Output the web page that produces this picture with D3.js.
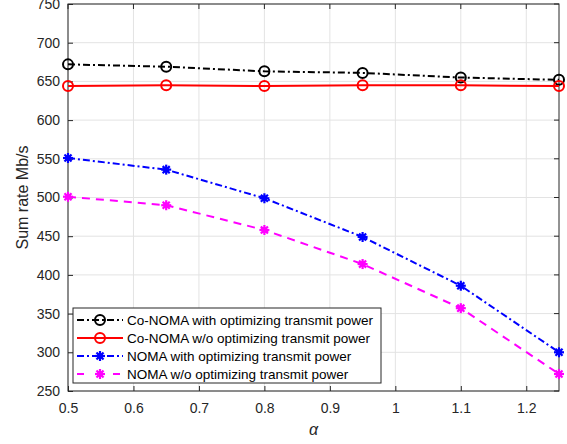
<!DOCTYPE html>
<html><head><meta charset="utf-8">
<script src="https://cdn.jsdelivr.net/npm/d3@7"></script>
<style>body{margin:0;background:#fff;} text{font-family:"Liberation Sans",Arial,sans-serif;}</style>
</head><body>
<svg id="c" width="567" height="444"></svg>
<script>
const alphas = [0.5, 0.65, 0.8, 0.95, 1.1, 1.25];
const coNomaOpt = [672, 669, 663, 661, 655, 652];
const coNomaNoOpt = [644, 645, 644, 645, 645, 644];
const nomaOpt = [551, 536, 499, 449, 386, 300];
const nomaNoOpt = [501, 490, 458, 414, 357, 272];
const xTicks = [0.5, 0.6, 0.7, 0.8, 0.9, 1, 1.1, 1.2];
const yTicks = [250, 300, 350, 400, 450, 500, 550, 600, 650, 700, 750];
const seriesNames = ["Co-NOMA with optimizing transmit power","Co-NOMA w/o optimizing transmit power","NOMA with optimizing transmit power","NOMA w/o optimizing transmit power"];

const svg = d3.select("#c");
const L=68,R=559,T=4,B=391;
const x = d3.scaleLinear().domain([0.5,1.25]).range([L,R]);
const y = d3.scaleLinear().domain([250,750]).range([B,T]);

// grid
svg.append("g").selectAll("line").data(xTicks).join("line")
  .attr("x1",d=>x(d)).attr("x2",d=>x(d)).attr("y1",T).attr("y2",B)
  .attr("stroke","#e3e3e3").attr("stroke-width",1);
svg.append("g").selectAll("line").data(yTicks).join("line")
  .attr("x1",L).attr("x2",R).attr("y1",d=>y(d)).attr("y2",d=>y(d))
  .attr("stroke","#e3e3e3").attr("stroke-width",1);

// axes
const xa = svg.append("g").attr("transform",`translate(0,${B})`)
  .call(d3.axisBottom(x).tickValues(xTicks).tickSize(-5).tickPadding(12).tickFormat(d=>d3.format("")(d)));
const ya = svg.append("g").attr("transform",`translate(${L},0)`)
  .call(d3.axisLeft(y).tickValues(yTicks).tickSize(-5).tickPadding(8));
[xa,ya].forEach(a=>{
  a.select(".domain").remove();
  a.selectAll("line").attr("stroke","#262626");
  a.selectAll("text").attr("font-size",14).attr("fill","#262626").attr("font-family","Liberation Sans,Arial,sans-serif");
});
// top/right ticks
svg.append("g").selectAll("line").data(xTicks).join("line")
  .attr("x1",d=>x(d)).attr("x2",d=>x(d)).attr("y1",T).attr("y2",T+5).attr("stroke","#262626");
svg.append("g").selectAll("line").data(yTicks).join("line")
  .attr("x1",R-5).attr("x2",R).attr("y1",d=>y(d)).attr("y2",d=>y(d)).attr("stroke","#262626");
// box
svg.append("rect").attr("x",L).attr("y",T).attr("width",R-L).attr("height",B-T)
  .attr("fill","none").attr("stroke","#262626").attr("stroke-width",1);

// axis labels
svg.append("text").attr("x",(L+R)/2).attr("y",435).attr("text-anchor","middle")
  .attr("font-family","Liberation Serif,serif").attr("font-style","italic").attr("font-size",16).attr("fill","#262626").text("α");
svg.append("text").attr("transform",`translate(28,${(T+B)/2}) rotate(-90)`).attr("text-anchor","middle")
  .attr("font-size",16).attr("fill","#262626").text("Sum rate Mb/s");

const series = [
  {vals:coNomaOpt,color:"#000000",dash:"7,3,2,3",marker:"circle"},
  {vals:coNomaNoOpt,color:"#ff0000",dash:null,marker:"circle"},
  {vals:nomaOpt,color:"#0000ff",dash:"7,3,2,3",marker:"star"},
  {vals:nomaNoOpt,color:"#ff00ff",dash:"8,6",marker:"star"}
];
const line = d3.line().x((d,i)=>x(alphas[i])).y(d=>y(d));

function drawMarker(g,cx,cy,s){
  if(s.marker==="circle"){
    g.append("circle").attr("cx",cx).attr("cy",cy).attr("r",5).attr("fill","none").attr("stroke",s.color).attr("stroke-width",2);
  } else {
    for(let k=0;k<4;k++){
      const a=k*Math.PI/4;
      g.append("line").attr("x1",cx-5*Math.cos(a)).attr("y1",cy-5*Math.sin(a))
        .attr("x2",cx+5*Math.cos(a)).attr("y2",cy+5*Math.sin(a))
        .attr("stroke",s.color).attr("stroke-width",2.2);
    }
    g.append("circle").attr("cx",cx).attr("cy",cy).attr("r",3).attr("fill",s.color);
  }
}

series.forEach(s=>{
  const p = svg.append("path").datum(s.vals).attr("d",line).attr("fill","none")
    .attr("stroke",s.color).attr("stroke-width",2);
  if(s.dash) p.attr("stroke-dasharray",s.dash);
  const g = svg.append("g");
  s.vals.forEach((v,i)=>drawMarker(g,x(alphas[i]),y(v),s));
});

// legend
const lg = svg.append("g");
lg.append("rect").attr("x",73).attr("y",308).attr("width",308).attr("height",75)
  .attr("fill","#fff").attr("stroke","#262626").attr("stroke-width",1);
series.forEach((s,i)=>{
  const ly = 320+i*18;
  const l = lg.append("line").attr("x1",77).attr("x2",123).attr("y1",ly).attr("y2",ly)
    .attr("stroke",s.color).attr("stroke-width",2);
  if(s.dash) l.attr("stroke-dasharray", i===3 ? "7,11" : "7,3,2,3");
  drawMarker(lg,100,ly,s);
  lg.append("text").attr("x",127).attr("y",ly+5).attr("font-size",13.5).attr("fill","#000").text(seriesNames[i]);
});
</script>
</body></html>
